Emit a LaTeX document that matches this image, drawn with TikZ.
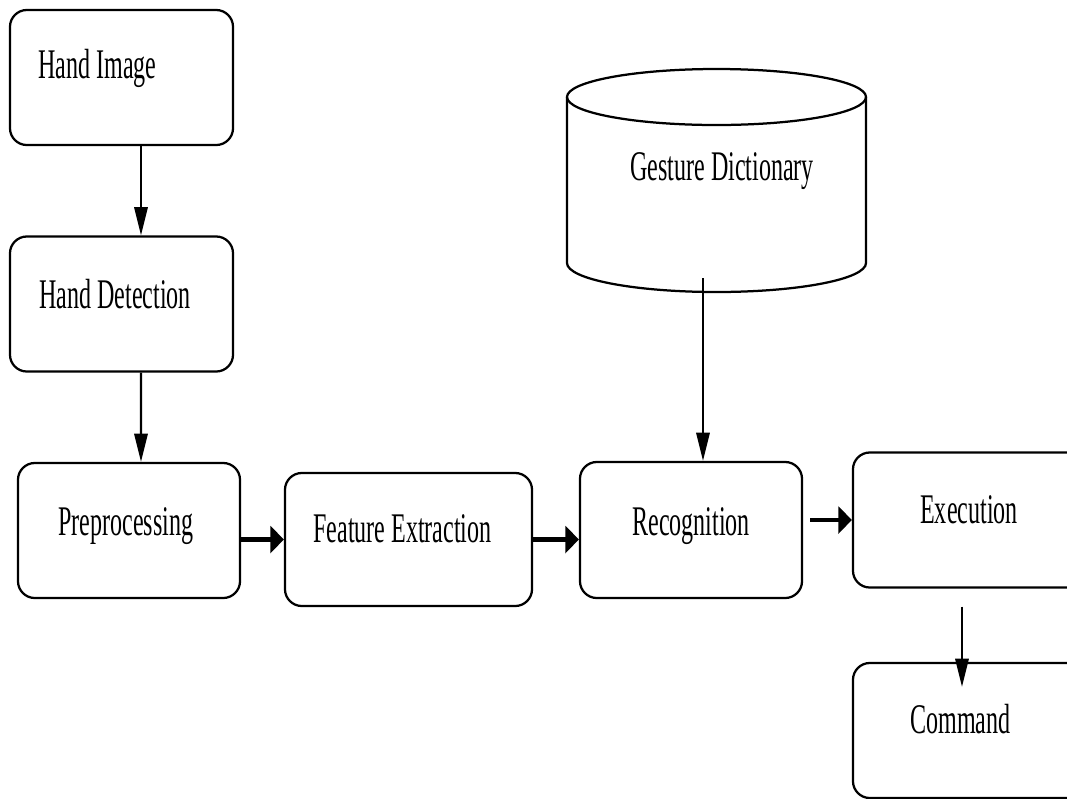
\documentclass[tikz,border=0pt]{standalone}
\usepackage{fontspec}
\setmainfont[FakeStretch=0.57]{Liberation Serif}
\usetikzlibrary{calc}
\usetikzlibrary{arrows.meta}

\begin{document}
\begin{tikzpicture}[x=0.025cm,y=-0.025cm]
    \tikzstyle{every node}=[font=\fontsize{30}{36}\selectfont]
    \tikzstyle{stepbox}=[draw,line width=1.6pt,rounded corners=12pt,minimum width=5.575cm,minimum height=3.375cm,inner sep=0pt]
    \tikzstyle{txt}=[anchor=base west,inner sep=0pt]
    \tikzstyle{vflow}=[line width=1.5pt,-{Triangle[length=20pt,width=9.5pt]}]
    \tikzstyle{hflow}=[line width=3pt,-{Triangle[length=9.5pt,width=19pt]}]

    \useasboundingbox (0,0) rectangle (1067,798);
    \clip (0,0) rectangle (1067,798);

    % process boxes
    \node[stepbox] (img) at (121.5,77.5) {};
    \node[stepbox] (det) at (121.5,304) {};
    \node[stepbox,minimum width=5.55cm] (pre) at (129,530.5) {};
    \node[stepbox,minimum width=6.175cm,minimum height=3.325cm] (feat) at (408.5,539.5) {};
    \node[stepbox,minimum width=5.55cm,minimum height=3.4cm] (rec) at (691,530) {};
    \node[stepbox,minimum width=6cm] (exe) at (973,520) {};
    \node[stepbox,minimum width=6cm] (cmd) at (973,730.5) {};

    % labels for boxes
    \node[txt] (img-t) at (38,78) {Hand Image};
    \node[txt] (det-t) at (39,308) {Hand Detection};
    \node[txt] (pre-t) at (58,535) {Preprocessing};
    \node[txt] (feat-t) at (313,542) {Feature Extraction};
    \node[txt] (rec-t) at (632,535) {Recognition};
    \node[txt] (exe-t) at (920,523) {Execution};
    \node[txt] (cmd-t) at (910,733) {Command};

    % gesture dictionary store
    \draw[line width=1.6pt] (716.5,97) ellipse[x radius=149.5,y radius=28];
    \draw[line width=1.6pt] (567,97) -- (567,263) arc[start angle=180,end angle=0,x radius=149.5,y radius=29] -- (866,97);
    \node[txt] (dict-t) at (630,180) {Gesture Dictionary};
    \coordinate (dict) at (703,278);

    % vertical flow
    \draw[vflow] ($(img.south)+(19.5,0)$) -- ($(det.north)+(19.5,0)$);
    \draw[vflow] ($(det.south)+(19.5,0)$) -- ($(pre.north)+(12,0)$);
    \draw[vflow] (dict) -- (rec.north -| dict);
    \draw[vflow] ($(exe.south)+(-11,18)$) -- ($(cmd.north)+(-11,25)$);

    % horizontal flow
    \draw[hflow] (pre.east |- feat.west) -- (feat.west);
    \draw[hflow] (feat.east) -- (rec.west |- feat.east);
    \draw[hflow,shorten <=5pt] (rec.east |- exe.west) -- (exe.west);
\end{tikzpicture}
\end{document}
